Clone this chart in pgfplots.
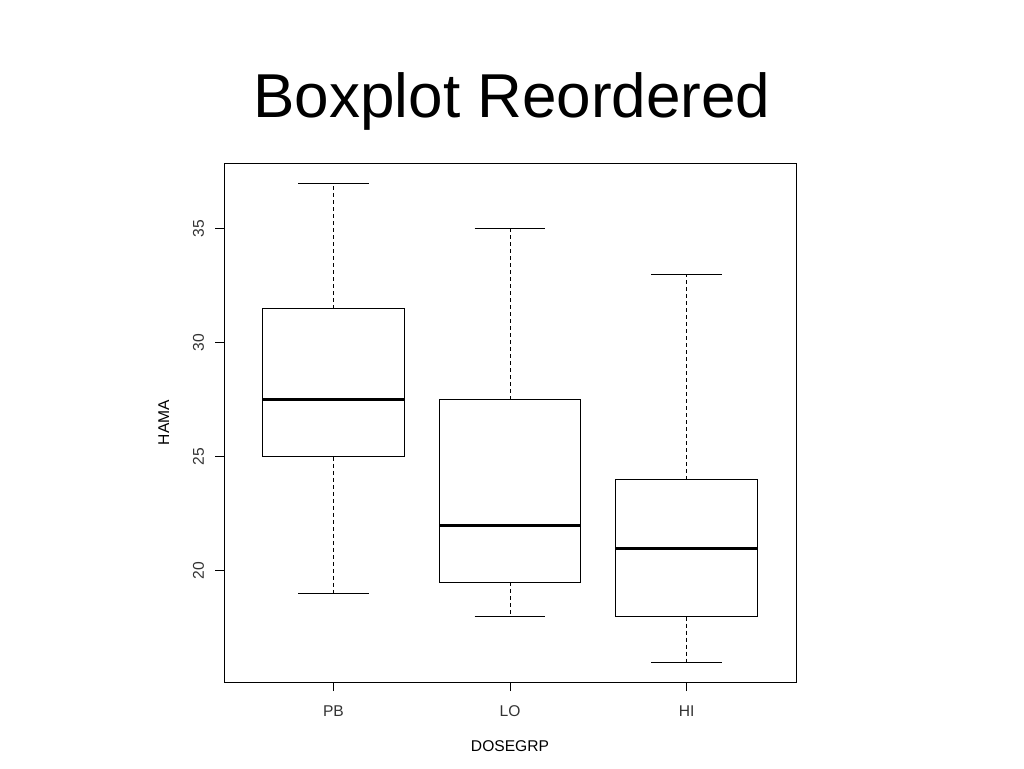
\documentclass[border=0pt]{standalone}
\usepackage{pgfplots}
\pgfplotsset{compat=1.18}
\usepackage{fontspec}
\setmainfont{Liberation Sans}
\definecolor{ticktext}{gray}{0.2}
\begin{document}
\begin{tikzpicture}
\path[use as bounding box] (0,0) rectangle (512pt,384pt);
\node[font=\fontsize{31}{36}\selectfont] at (256pt,333.5pt) {Boxplot Reordered};
\begin{axis}[
  at={(112pt,43pt)}, anchor=south west,
  scale only axis, width=286pt, height=259.5pt,
  xmin=0.38, xmax=3.62, ymin=15.13, ymax=37.89,
  xtick={1,2,3}, xticklabels={PB,LO,HI},
  ytick={20,25,30,35},
  tick align=outside, tick pos=left,
  major tick length=4.5pt,
  axis line style={line width=0.5pt},
  every tick/.style={black, line width=0.5pt},
  tick label style={font=\fontsize{7.8}{9}\selectfont, text=ticktext},
  /pgf/number format/assume math mode=true,
  yticklabel style={rotate=90, anchor=south},
  yticklabel shift=2pt,
  xticklabel style={yshift=-4pt},
  label style={font=\fontsize{7.8}{9}\selectfont},
  xlabel={DOSEGRP}, ylabel={HAMA},
  xlabel style={yshift=-5pt},
  ylabel style={yshift=5pt},
  box/.style={black, line width=0.5pt, no marks},
  med/.style={black, line width=1.5pt, no marks},
  whisk/.style={black, line width=0.5pt, no marks, dash pattern=on 2pt off 1.5pt},
  cap/.style={black, line width=0.5pt, no marks},
]
% PB
\addplot[box] coordinates {(0.6,25) (1.4,25) (1.4,31.5) (0.6,31.5) (0.6,25)};
\addplot[med] coordinates {(0.6,27.5) (1.4,27.5)};
\addplot[whisk] coordinates {(1,25) (1,19)};
\addplot[whisk] coordinates {(1,31.5) (1,37)};
\addplot[cap] coordinates {(0.8,19) (1.2,19)};
\addplot[cap] coordinates {(0.8,37) (1.2,37)};
% LO
\addplot[box] coordinates {(1.6,19.5) (2.4,19.5) (2.4,27.5) (1.6,27.5) (1.6,19.5)};
\addplot[med] coordinates {(1.6,22) (2.4,22)};
\addplot[whisk] coordinates {(2,19.5) (2,18)};
\addplot[whisk] coordinates {(2,27.5) (2,35)};
\addplot[cap] coordinates {(1.8,18) (2.2,18)};
\addplot[cap] coordinates {(1.8,35) (2.2,35)};
% HI
\addplot[box] coordinates {(2.6,18) (3.4,18) (3.4,24) (2.6,24) (2.6,18)};
\addplot[med] coordinates {(2.6,21) (3.4,21)};
\addplot[whisk] coordinates {(3,18) (3,16)};
\addplot[whisk] coordinates {(3,24) (3,33)};
\addplot[cap] coordinates {(2.8,16) (3.2,16)};
\addplot[cap] coordinates {(2.8,33) (3.2,33)};
\end{axis}
\end{tikzpicture}
\end{document}
